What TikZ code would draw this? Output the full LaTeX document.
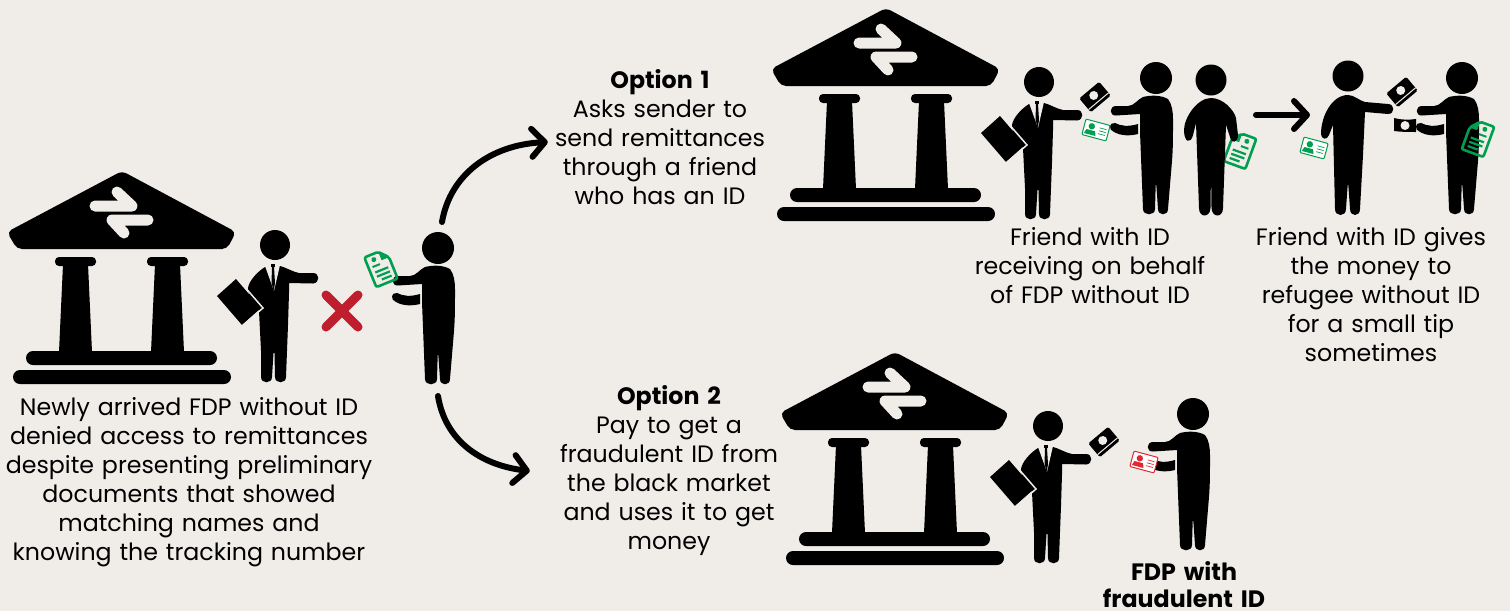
\documentclass[tikz,border=0pt]{standalone}
\usepackage{fontspec}
\setmainfont{Poppins}
\usetikzlibrary{arrows.meta}

\definecolor{paper}{RGB}{240,237,233}
\definecolor{idgreen}{RGB}{0,158,79}
\definecolor{idred}{RGB}{222,40,50}
\definecolor{crossred}{RGB}{190,30,45}

\tikzset{
    caption/.style={align=center,inner sep=0pt,font=\fontsize{23.7}{29}\selectfont},
    flow/.style={line width=6pt,line cap=round,-{Straight Barb[length=13pt,width=28pt,round]}},
    pics/bank/.style={code={
        % Roof
        \fill[rounded corners=5pt] (122,171) -- (7,232) -- (17,249) -- (227,249) -- (236,232) -- cycle;
        \draw[paper,line width=11pt,line cap=round,line join=round] (95,206) -- (132,206) -- (117,192);
        \draw[paper,line width=11pt,line cap=round,line join=round] (148,220) -- (112,220) -- (124,233);
        % Columns
        \fill[rounded corners=4pt] (55,257) rectangle (96,266);
        \fill[rounded corners=4pt] (147,257) rectangle (188,266);
        \fill (63,264) -- (88,264) -- (92,352) -- (59,352) -- cycle;
        \fill (155,264) -- (180,264) -- (184,352) -- (151,352) -- cycle;
        % Steps
        \fill[rounded corners=7pt] (26,351) rectangle (217,365);
        \fill[rounded corners=7pt] (13,370) rectangle (231,384);
    }},
    pics/suitman/.style={code={
        \fill (0,0) circle (15);
        \fill (-10,22) .. controls (-18,27) and (-26,36) .. (-27,43) -- (-26,50) -- (-16,66) -- (-14,106) -- (-14,132)
            .. controls (-14,139) and (-3,139) .. (-3,132) -- (-1.5,108) -- (-0.5,108) -- (0,132)
            .. controls (0,139) and (11,139) .. (11,132) -- (13,80) -- (14,48) -- (14,38) -- (38,38.5)
            .. controls (45,38) and (45,28) .. (38,28) -- (24,28) .. controls (18,27) and (10,22) .. (5,21) -- cycle;
        % Shirt and tie
        \fill[paper] (-10,21) -- (5,20) -- (-1,46) -- cycle;
        \fill (-4,19) rectangle (-0.5,22);
        \fill (-3,22) -- (-1,22) -- (0,38) -- (-1.2,46) -- (-3.5,38) -- cycle;
        % Folder
        \fill (-39,34) -- (-58,51) -- (-33,80) -- (-14,63) -- cycle;
        \draw[paper,line width=1.5pt] (-38,33) -- (-12,63) -- (-33,81);
    }},
    pics/reacher/.style={code={
        \fill (0,0) circle (16);
        \fill (-13,19) .. controls (-5,17) and (5,17) .. (12,21) .. controls (16,26) and (17,34) .. (17,41)
            .. controls (17,60) and (17,70) .. (16,83) -- (12,131) .. controls (12,138) and (2,138) .. (2,131)
            -- (0.3,107) -- (-0.3,107) -- (-1,131) .. controls (-1,138) and (-13,138) .. (-13,131) -- (-16,54) -- (-16,36)
            -- (-40,37.5) .. controls (-47,38) and (-47,28) .. (-40,28) -- (-28,28) .. controls (-22,28) and (-18,21) .. (-13,19) -- cycle;
        \fill (-18,46) .. controls (-28,49) and (-35,48) .. (-41,45) .. controls (-47,44) and (-48,52) .. (-42,54)
            .. controls (-35,58) and (-26,58) .. (-18,56) -- cycle;
    }},
    pics/stander/.style={code={
        \fill (0,0) circle (15.5);
        \fill (0,18) .. controls (12,18) and (23,30) .. (25,38) -- (27,55) .. controls (27,63) and (20,64) .. (19,57)
            -- (15,45) -- (12,128) .. controls (12,138) and (1,138) .. (0.5,128) -- (0.2,105) -- (-0.2,105) -- (-0.5,128)
            .. controls (-1,138) and (-12,138) .. (-12,128) -- (-15,43) -- (-18,55) .. controls (-20,64) and (-27,63) .. (-27,50)
            .. controls (-27,38) and (-14,18) .. (0,18) -- cycle;
    }},
    pics/giver/.style={code={
        \fill (0,0) circle (15.5);
        \fill (0,19) .. controls (6,19) and (12,25) .. (17,26) -- (40,28) .. controls (47,28) and (47,38) .. (40,38) -- (17,36)
            -- (15,79) -- (12,133) .. controls (12,141) and (2,141) .. (2,133) -- (0.3,109) -- (-0.3,109) -- (-2,133)
            .. controls (-2,141) and (-13,141) .. (-13,133) -- (-15,49) -- (-19,59) .. controls (-21,65) and (-27,63) .. (-27,58)
            .. controls (-27,40) and (-16,19) .. (0,19) -- cycle;
    }},
    pics/paperdoc/.style={code={
        \draw[idgreen,line width=2.6pt,rounded corners=2pt] (-11.5,-7) -- (-3.5,-16) -- (11.5,-16) -- (11.5,16) -- (-11.5,16) -- cycle;
        \fill[idgreen] (-11.5,-7) -- (-3.5,-16) -- (-3.5,-7) -- cycle;
        \fill[idgreen] (3.5,-10.5) circle (2.5);
        \fill[idgreen] (-0.5,-5) rectangle (7.5,-3);
        \draw[idgreen,line width=2.2pt] (-7,2) -- (7,2) (-7,6.5) -- (7,6.5) (-7,11) -- (3.5,11);
    }},
    pics/idcard/.style={code={
        \draw[#1,fill=white,line width=1pt,rounded corners=1pt] (-12.5,-8) rectangle (12.5,8);
        \fill[#1] (-5,-2.5) circle (3.2);
        \fill[#1] (-11,6) -- (-9.5,1.5) -- (-0.5,1.5) -- (1,6) -- cycle;
        \draw[#1,line width=0.7pt] (3,-3) -- (10,-3) (3,0) -- (10,0) (3,3) -- (10,3);
    }},
    pics/cash/.style={code={
        \fill[rounded corners=1.5pt] (-13,-9) rectangle (13,9);
        \fill[paper] (0,-2) circle (4.5);
        \draw[paper,line width=1pt] (-13,5.5) -- (13,5.5);
    }},
    pics/flatcash/.style={code={
        \fill (-11,-7) .. controls (-4,-5) and (4,-5) .. (11,-6) -- (11,7) .. controls (4,7) and (-4,7) .. (-11,6) -- cycle;
        \fill[paper] (0,0.5) circle (4.5);
    }},
}

\begin{document}
\begin{tikzpicture}[x=1pt,y=-1pt]
    \useasboundingbox (0,0) rectangle (1510,611);
    \fill[paper] (0,0) rectangle (1510,611);

    % Denied at the counter
    \pic at (0,0) {bank};
    \pic at (275,245) {suitman};
    \pic at (438,248) {reacher};
    \pic[rotate=22,xscale=-1] at (381,268) {paperdoc};
    \draw[crossred,line width=9pt,line cap=round] (326,295) -- (358,327);
    \draw[crossred,line width=9pt,line cap=round] (358,295) -- (326,327);

    \node[caption,text width=370pt] (denied) at (189,482.5) {Newly arrived FDP without ID\\denied access to remittances\\despite presenting preliminary\\documents that showed\\matching names and\\knowing the tracking number};

    % Option 1
    \node[caption,text width=224pt] (opt1) at (660,137) {\textbf{Option 1}\\Asks sender to\\send remittances\\through a friend\\who has an ID};
    \pic at (764,-163) {bank};
    \pic at (1039,82) {suitman};
    \pic at (1156,78) {reacher};
    \pic[rotate=-20] at (1240,150) {paperdoc};
    \pic at (1211,80) {stander};
    \pic[rotate=40] at (1095,97) {cash};
    \pic[rotate=-15] at (1096,130) {idcard=idgreen};
    \node[caption,text width=260pt] (friend) at (1090,266) {Friend with ID\\receiving on behalf\\of FDP without ID};

    % Handing over
    \coordinate (passfrom) at (1256,115);
    \coordinate (passto) at (1310,115);
    \draw[flow] (passfrom) -- (passto);

    \pic at (1348,76) {giver};
    \pic at (1462,78) {reacher};
    \pic[rotate=-15] at (1314,148) {idcard=idgreen};
    \pic[rotate=40] at (1402,92) {cash};
    \pic at (1405,125) {flatcash};
    \pic[rotate=-20] at (1478,138) {paperdoc};
    \node[caption,text width=260pt] (tip) at (1371,295) {Friend with ID gives\\the money to\\refugee without ID\\for a small tip\\sometimes};

    % Option 2
    \node[caption,text width=278pt] (opt2) at (669,471) {\textbf{Option 2}\\Pay to get a\\fraudulent ID from\\the black market\\and uses it to get\\money};
    \pic at (773,181) {bank};
    \pic at (1048,426) {suitman};
    \pic at (1193,414) {reacher};
    \pic[rotate=40] at (1104,442) {cash};
    \pic[rotate=-15] at (1144,462) {idcard=idred};
    \node[caption,text width=200pt] (fraud) at (1184,584.5) {\textbf{FDP with}\\[-2pt]\textbf{fraudulent ID}};

    % Arrows
    \coordinate (upstart) at (442,222);
    \coordinate (downstart) at (438,396);
    \draw[flow] (upstart) .. controls (450,175) and (490,145) .. ([yshift=-5pt]opt1.west);
    \draw[flow] (downstart) .. controls (445,440) and (480,465) .. (opt2.west);
\end{tikzpicture}
\end{document}
